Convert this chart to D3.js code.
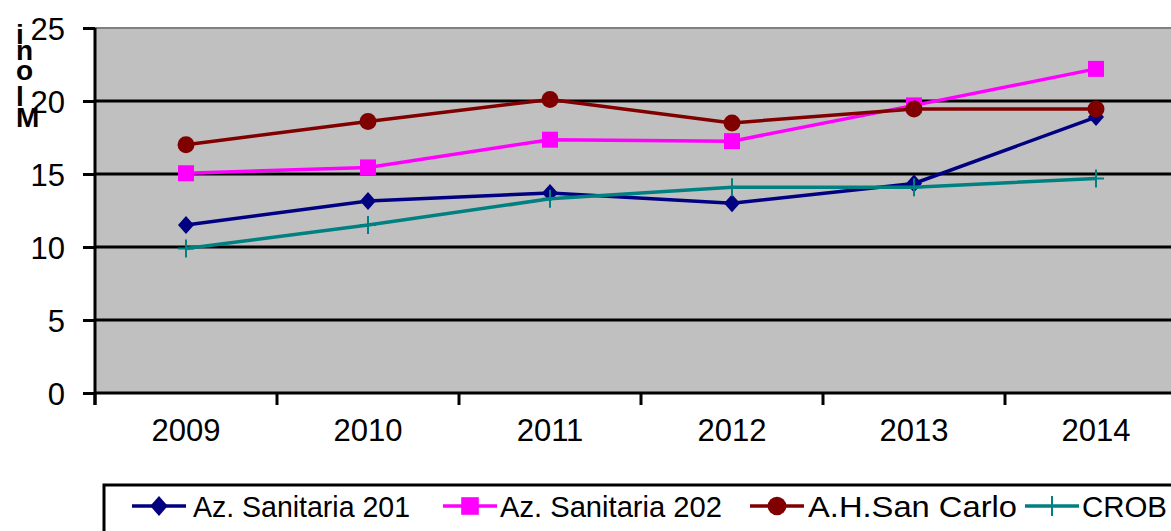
<!DOCTYPE html>
<html><head><meta charset="utf-8">
<script src="https://cdn.jsdelivr.net/npm/d3@7"></script>
<style>body{margin:0;background:#fff;}svg{display:block;font-family:Arial,"Liberation Sans",sans-serif;}</style>
</head><body>
<svg id="c" width="1171" height="531"></svg>
<script>
const years = ["2009","2010","2011","2012","2013","2014"];
const yTicks = [0,5,10,15,20,25];
const az201 = [11.5,13.15,13.7,13.0,14.35,18.9];
const az202 = [15.05,15.45,17.35,17.25,19.7,22.2];
const sanCarlo = [17.0,18.6,20.1,18.5,19.45,19.45];
const crob = [9.9,11.5,13.3,14.1,14.1,14.7];
const seriesNames = ["Az. Sanitaria 201","Az. Sanitaria 202","A.H.San Carlo","CROB"];
const seriesColors = ["#000080","#ff00ff","#800000","#008080"];
const seriesMarkers = ["diamond","square","circle","plus"];
const yTitle = ["i","n","o","l","M"];

const series = [az201,az202,sanCarlo,crob].map((v,i)=>({name:seriesNames[i],values:v,color:seriesColors[i],marker:seriesMarkers[i]}));

const svg = d3.select("#c");
const L=95, R=1187, T=28, B=393;
const x = d3.scaleBand().domain(years).range([L,R]);
const y = d3.scaleLinear().domain([0,25]).range([B,T]);
const FONT = "Arial, 'Liberation Sans', sans-serif";

svg.append("rect").attr("x",L).attr("y",T).attr("width",R-L).attr("height",B-T).attr("fill","#c0c0c0");
svg.append("line").attr("x1",L).attr("x2",R).attr("y1",T).attr("y2",T).attr("stroke","#808080").attr("stroke-width",2);

// gridlines
svg.append("g").selectAll("line").data(yTicks.filter(d=>d>0&&d<25)).join("line")
  .attr("x1",L).attr("x2",R).attr("y1",d=>y(d)).attr("y2",d=>y(d))
  .attr("stroke","#000").attr("stroke-width",3);

// y axis
const ya = svg.append("g").attr("transform",`translate(${L},0)`)
  .call(d3.axisLeft(y).tickValues(yTicks).tickSize(12).tickPadding(18));
ya.select(".domain").attr("stroke-width",3).attr("d",`M-0,${B+12}V${T}`);
ya.selectAll(".tick line").attr("stroke-width",3);
ya.selectAll(".tick text").attr("font-size",31).attr("fill","#000").attr("font-family",FONT).attr("dy","0.36em");

// x axis
const xa = svg.append("g").attr("transform",`translate(0,${B})`)
  .call(d3.axisBottom(x).tickSize(0).tickPadding(0));
xa.select(".domain").attr("stroke-width",3).attr("d",`M${L},0H${R}`);
xa.selectAll(".tick text").attr("font-size",31).attr("fill","#000").attr("font-family",FONT).attr("dy",null).attr("y",48);
// tick marks between categories
svg.append("g").selectAll("line").data(years).join("line")
  .attr("x1",d=>x(d)).attr("x2",d=>x(d)).attr("y1",B).attr("y2",B+12)
  .attr("stroke","#000").attr("stroke-width",3);

// y title stacked letters
const titleY = [44,60,80,106,127];
svg.append("g").selectAll("text").data(yTitle).join("text")
  .attr("x",16).attr("y",(d,i)=>titleY[i]).attr("text-anchor","start")
  .attr("font-size",28).attr("font-weight","bold").text(d=>d);

const line = d3.line().x((d,i)=>x(years[i])+x.bandwidth()/2).y(d=>y(d));

function drawMarker(g, type, color, cx, cy, scale){
  const s = scale||1;
  if(type==="diamond"){
    g.append("path").attr("d",`M${cx},${cy-9*s}L${cx+8*s},${cy}L${cx},${cy+9*s}L${cx-8*s},${cy}Z`).attr("fill",color);
  } else if(type==="square"){
    g.append("rect").attr("x",cx-8*s).attr("y",cy-8*s).attr("width",16*s).attr("height",16*s).attr("fill",color);
  } else if(type==="circle"){
    g.append("circle").attr("cx",cx).attr("cy",cy).attr("r",8.5*s).attr("fill",color);
  } else {
    g.append("path").attr("d",`M${cx-8*s},${cy}H${cx+8*s}M${cx},${cy-9*s}V${cy+9*s}`).attr("stroke",color).attr("stroke-width",2).attr("fill","none");
  }
}

series.forEach(s=>{
  const g = svg.append("g");
  g.append("path").datum(s.values).attr("d",line).attr("fill","none").attr("stroke",s.color).attr("stroke-width",3.5);
  s.values.forEach((v,i)=>drawMarker(g,s.marker,s.color,x(years[i])+x.bandwidth()/2,y(v)));
});

// legend
svg.append("rect").attr("x",104).attr("y",485).attr("width",1100).attr("height",80)
  .attr("fill","#fff").attr("stroke","#000").attr("stroke-width",3);
const legX = [132,443,750,1025];
const legTextX = [193,500,808,1082];
const legTextW = [217,222,209,85];
series.forEach((s,i)=>{
  const g = svg.append("g");
  const cy = 506;
  g.append("line").attr("x1",legX[i]).attr("x2",legX[i]+54).attr("y1",cy).attr("y2",cy).attr("stroke",s.color).attr("stroke-width",3.5);
  drawMarker(g,s.marker,s.color,legX[i]+27,cy,1.1);
  g.append("text").attr("x",legTextX[i]).attr("y",517).attr("font-size",30)
    .attr("textLength",legTextW[i]).attr("lengthAdjust","spacingAndGlyphs").text(s.name);
});
</script>
</body></html>
